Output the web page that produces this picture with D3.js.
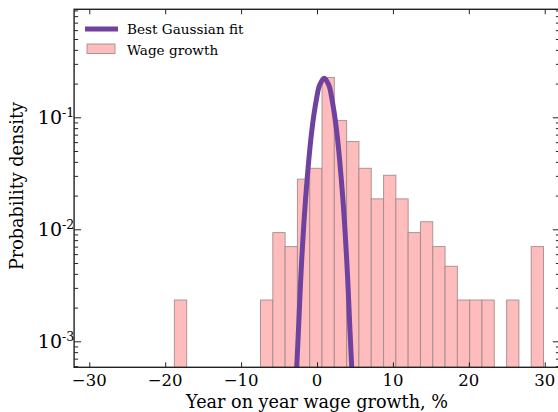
<!DOCTYPE html>
<meta charset="utf-8">
<style>
    body { margin: 0; background: #fff; }
    svg { display: block; font-family: "DejaVu Serif", serif; }
    .spine { stroke: #222; stroke-width: 1.4; fill: none; }
    .tick line { stroke: #222; stroke-width: 1; }
    .bar { fill: #ffbcbc; stroke: #a08888; stroke-width: 1; stroke-opacity: 0.85; }
    .fit { fill: none; stroke: #6f42a0; stroke-width: 5; }
</style>
<svg width="558" height="412"></svg>
<script src="https://d3js.org/d3.v7.min.js"></script>
<script>
    // histogram of wage growth (30 bins between min and max of data)
    var binStart = -18.79;
    var binWidth = 1.621;
    var binCounts = [1, 0, 0, 0, 0, 0, 0, 1, 4, 3, 12, 15, 97, 40, 26, 15, 8, 13, 8, 4, 5, 3, 2, 1, 1, 1, 0, 1, 0, 3];

    // best gaussian fit
    var fitX = [-2.77, -2.67, -2.45, -2.05, -1.5, -0.7, -0.05, 0.35, 0.95, 1.55, 1.95, 2.6, 3.4, 3.95, 4.35, 4.57, 4.67];
    var fitY = [0.00044, 0.000593, 0.00122, 0.0048, 0.0189, 0.0744, 0.148, 0.194, 0.223, 0.194, 0.148, 0.0744, 0.0189, 0.0048, 0.00122, 0.000593, 0.00044];

    var xTicks = [-30, -20, -10, 0, 10, 20, 30];
    var yTicks = [1e-3, 1e-2, 1e-1];
    var yTickExp = ["-3", "-2", "-1"];

    var svg = d3.select("svg");
    var pLeft = 74.1, pRight = 559.9, pTop = 9.3, pBottom = 367.3;

    var x = d3.scaleLinear().domain([-32, 32]).range([pLeft, pRight]);
    var y = d3.scaleLog().domain([5.86e-4, 0.921]).range([pBottom, pTop]);

    var total = d3.sum(binCounts);
    var bins = binCounts.map(function (c, i) {
        return {x0: binStart + i * binWidth, x1: binStart + (i + 1) * binWidth, d: c / (total * binWidth)};
    }).filter(function (b) { return b.d > 0; });

    svg.append("clipPath").attr("id", "plotclip")
        .append("rect").attr("x", pLeft).attr("y", pTop).attr("width", pRight - pLeft).attr("height", pBottom - pTop);

    var plot = svg.append("g").attr("clip-path", "url(#plotclip)");

    plot.selectAll("rect.bar")
        .data(bins)
        .enter()
        .append("rect")
        .attr("class", "bar")
        .attr("x", function (d) { return x(d.x0); })
        .attr("width", function (d) { return x(d.x1) - x(d.x0); })
        .attr("y", function (d) { return y(d.d); })
        .attr("height", function (d) { return pBottom + 2 - y(d.d); });

    var line = d3.line()
        .x(function (d) { return x(d[0]); })
        .y(function (d) { return y(d[1]); })
        .curve(d3.curveCatmullRom);

    plot.append("path")
        .attr("class", "fit")
        .attr("d", line(d3.zip(fitX, fitY)));

    // ticks, inward on all four sides
    var minor = [];
    [1e-4, 1e-3, 1e-2, 1e-1].forEach(function (dec) {
        for (var k = 2; k <= 9; k++) {
            var v = dec * k;
            if (v >= y.domain()[0] && v <= y.domain()[1]) minor.push(v);
        }
    });

    var axisBottom = d3.axisBottom(x).tickValues(xTicks).tickSizeInner(-5).tickSizeOuter(0).tickFormat("");
    var axisTop = d3.axisTop(x).tickValues(xTicks).tickSizeInner(-5).tickSizeOuter(0).tickFormat("");
    svg.append("g").attr("transform", "translate(0," + pBottom + ")").call(axisBottom);
    svg.append("g").attr("transform", "translate(0," + pTop + ")").call(axisTop);

    var yMajL = d3.axisLeft(y).tickValues(yTicks).tickSizeInner(-7).tickSizeOuter(0).tickFormat("");
    var yMinL = d3.axisLeft(y).tickValues(minor).tickSizeInner(-4).tickSizeOuter(0).tickFormat("");
    var yMajR = d3.axisRight(y).tickValues(yTicks).tickSizeInner(-7).tickSizeOuter(0).tickFormat("");
    var yMinR = d3.axisRight(y).tickValues(minor).tickSizeInner(-4).tickSizeOuter(0).tickFormat("");
    svg.append("g").attr("transform", "translate(" + pLeft + ",0)").call(yMajL);
    svg.append("g").attr("transform", "translate(" + pLeft + ",0)").call(yMinL);
    svg.append("g").attr("transform", "translate(" + pRight + ",0)").call(yMajR);
    svg.append("g").attr("transform", "translate(" + pRight + ",0)").call(yMinR);
    svg.selectAll(".domain").remove();

    svg.append("rect").attr("class", "spine")
        .attr("x", pLeft).attr("y", pTop).attr("width", pRight - pLeft).attr("height", pBottom - pTop);

    // tick labels
    svg.selectAll("text.xt")
        .data(xTicks)
        .enter()
        .append("text")
        .attr("class", "xt")
        .attr("x", function (d) { return x(d); })
        .attr("y", 386)
        .attr("text-anchor", "middle")
        .style("font-size", "16.5px")
        .text(function (d) { return d < 0 ? "\u2212" + Math.abs(d) : d; });

    svg.selectAll("text.yt")
        .data(yTicks)
        .enter()
        .append("text")
        .attr("class", "yt")
        .attr("x", 62)
        .attr("y", function (d) { return y(d) + 7; })
        .attr("text-anchor", "end")
        .style("font-size", "19px")
        .text("10");
    svg.selectAll("text.ye")
        .data(yTicks)
        .enter()
        .append("text")
        .attr("class", "ye")
        .attr("x", 62)
        .attr("y", function (d) { return y(d) - 0.5; })
        .style("font-size", "12.5px")
        .text(function (d, i) { return yTickExp[i]; });

    svg.append("text")
        .attr("x", 317).attr("y", 408)
        .attr("text-anchor", "middle")
        .style("font-size", "17.6px")
        .text("Year on year wage growth, %");

    svg.append("text")
        .attr("transform", "translate(23,186) rotate(-90)")
        .attr("text-anchor", "middle")
        .style("font-size", "17.6px")
        .text("Probability density");

    // legend
    svg.append("line").attr("x1", 85).attr("x2", 118).attr("y1", 29).attr("y2", 29)
        .attr("stroke", "#6f42a0").attr("stroke-width", 5);
    svg.append("rect").attr("class", "bar").attr("x", 87).attr("y", 44).attr("width", 28).attr("height", 9.5);
    svg.append("text").attr("x", 127).attr("y", 34).style("font-size", "13.6px").text("Best Gaussian fit");
    svg.append("text").attr("x", 127).attr("y", 55).style("font-size", "13.6px").text("Wage growth");
</script>
